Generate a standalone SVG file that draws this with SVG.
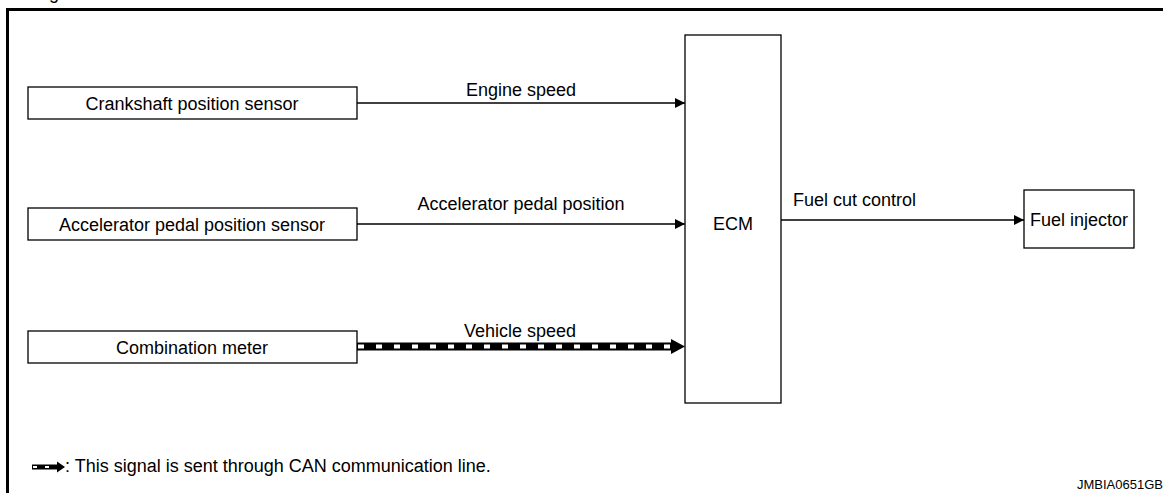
<svg xmlns="http://www.w3.org/2000/svg" width="1163" height="493" viewBox="0 0 1163 493">
  <style>
    .box { fill: #fff; stroke: #000; stroke-width: 1.3; }
    .lbl { font-family: "Liberation Sans", Arial, sans-serif; font-size: 18px; fill: #000; }
    .mid { text-anchor: middle; }
    .wire { stroke: #000; stroke-width: 1.5; fill: none; }
    .frame { stroke: #000; stroke-width: 3; fill: none; }
  </style>
  <defs>
    <marker id="arr" viewBox="0 0 10 10" refX="10" refY="5" markerWidth="10" markerHeight="10" markerUnits="userSpaceOnUse" orient="auto">
      <path d="M0,0 L10,5 L0,10 Z" fill="#000"/>
    </marker>
  </defs>
  <rect width="1163" height="493" fill="#fff"/>
  <text class="lbl" x="22" y="-1">Diagram</text>
  <path class="frame" d="M7.5,493 V9.5 H1163"/>

  <g id="crankshaft">
    <rect class="box" x="28" y="87" width="329" height="32"/>
    <text class="lbl mid" x="192" y="109.5">Crankshaft position sensor</text>
  </g>
  <g id="accelerator">
    <rect class="box" x="28" y="208" width="329" height="32"/>
    <text class="lbl mid" x="192" y="230.5">Accelerator pedal position sensor</text>
  </g>
  <g id="combination">
    <rect class="box" x="28" y="331" width="329" height="32"/>
    <text class="lbl mid" x="192" y="353.5">Combination meter</text>
  </g>
  <g id="ecm">
    <rect class="box" x="685" y="35" width="96" height="368"/>
    <text class="lbl mid" x="733" y="230">ECM</text>
  </g>
  <g id="injector">
    <rect class="box" x="1024" y="190" width="110" height="58"/>
    <text class="lbl mid" x="1079" y="225.5">Fuel injector</text>
  </g>

  <g id="connectors">
    <line class="wire" x1="357" y1="103" x2="685" y2="103" marker-end="url(#arr)"/>
    <text class="lbl mid" x="521" y="96">Engine speed</text>
    <line class="wire" x1="357" y1="224" x2="685" y2="224" marker-end="url(#arr)"/>
    <text class="lbl mid" x="521" y="210">Accelerator pedal position</text>
    <line class="wire" x1="781" y1="220" x2="1024" y2="220" marker-end="url(#arr)"/>
    <text class="lbl" x="793" y="206">Fuel cut control</text>
    <g id="can-line">
      <line x1="357" y1="346.5" x2="673" y2="346.5" stroke="#000" stroke-width="8"/>
      <line x1="358" y1="346.5" x2="671" y2="346.5" stroke="#fff" stroke-width="4" stroke-dasharray="6 12"/>
      <path d="M671,339 L685,346.5 L671,354 Z" fill="#000"/>
    </g>
    <text class="lbl mid" x="520" y="337">Vehicle speed</text>
  </g>

  <g id="legend">
    <line x1="32" y1="467" x2="58" y2="467" stroke="#000" stroke-width="5"/>
    <line x1="33" y1="467" x2="58" y2="467" stroke="#fff" stroke-width="2" stroke-dasharray="4 8"/>
    <path d="M57,461.5 L65,467 L57,472.5 Z" fill="#000"/>
    <text class="lbl" x="65" y="472">: This signal is sent through CAN communication line.</text>
  </g>
  <text x="1077" y="489" font-family="Liberation Sans, Arial, sans-serif" font-size="13" fill="#000">JMBIA0651GB</text>
</svg>
